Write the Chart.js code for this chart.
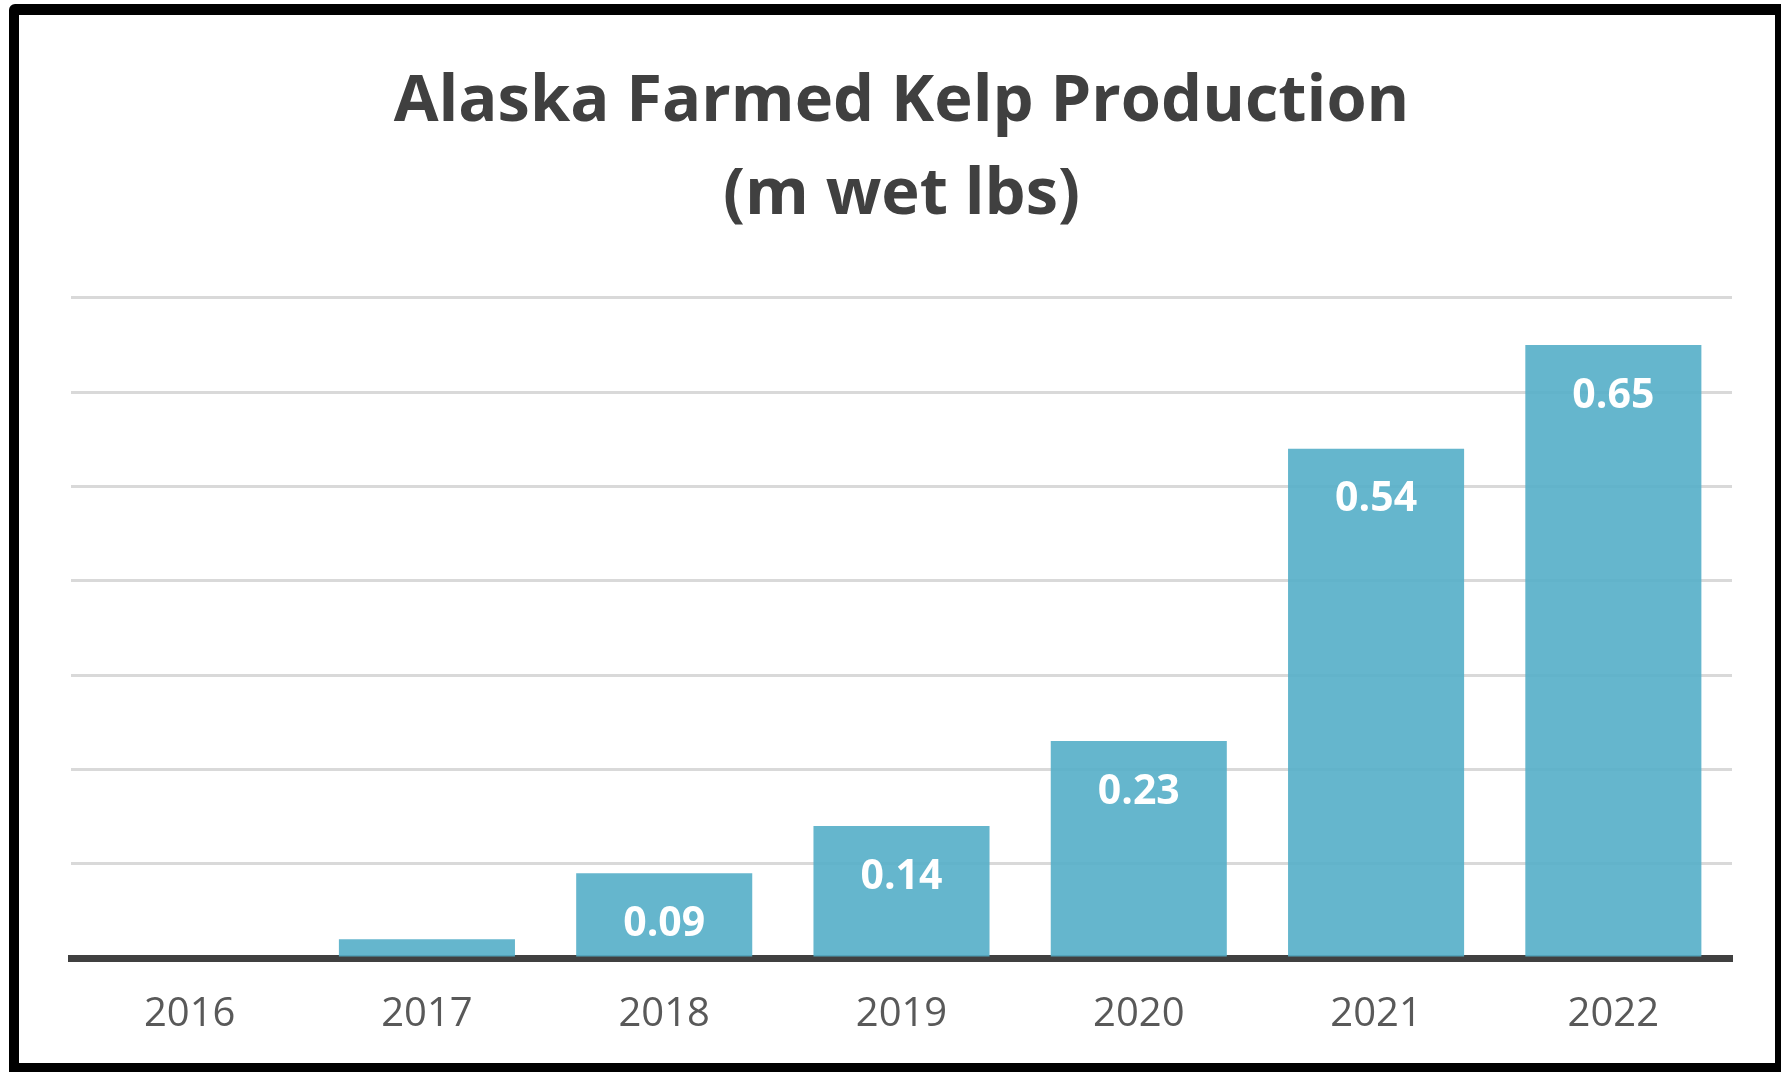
<!DOCTYPE html>
<html>
<head>
<meta charset="utf-8">
<script src="https://cdn.jsdelivr.net/npm/chart.js@4/dist/chart.umd.min.js"></script>
<style>
  html, body { margin: 0; padding: 0; background: #fff; }
  #wrap { position: relative; width: 1781px; height: 1072px; }
  #frame {
    position: absolute; left: 9px; top: 4px; right: 0; bottom: 0;
    box-sizing: border-box;
    border-style: solid; border-color: #000;
    border-width: 11px 6px 9px 10px;
    border-top-left-radius: 6px;
    pointer-events: none;
  }
</style>
</head>
<body>
<div id="wrap">
  <canvas id="kelp-chart" width="1781" height="1072"></canvas>
  <div id="frame"></div>
</div>
<script>
const years = ["2016", "2017", "2018", "2019", "2020", "2021", "2022"];
const kelpLbs = [0, 0.02, 0.09, 0.14, 0.23, 0.54, 0.65];
const titleLines = ["Alaska Farmed Kelp Production", "(m wet lbs)"];

// white value labels inside the top of each bar (only where the bar is tall enough)
const barValues = {
    id: 'barValues',
    afterDatasetsDraw(chart) {
        const ctx = chart.ctx;
        const meta = chart.getDatasetMeta(0);
        ctx.save();
        ctx.font = "bold 41px 'Open Sans'";
        ctx.fillStyle = "#ffffff";
        ctx.textAlign = "center";
        ctx.textBaseline = "middle";
        meta.data.forEach((bar, i) => {
            const v = kelpLbs[i];
            if (v < 0.05) return;
            ctx.fillText(v.toFixed(2), bar.x, bar.y + 51);
        });
        ctx.restore();
    }
};

new Chart(document.getElementById("kelp-chart"), {
    type: 'bar',
    data: {
        labels: years,
        datasets: [{
            data: kelpLbs,
            backgroundColor: "rgba(84, 174, 200, 0.9)",
            categoryPercentage: 1,
            barPercentage: 0.742
        }]
    },
    options: {
        responsive: false,
        animation: false,
        layout: {
            padding: { left: 71, right: 49, top: 0, bottom: 0 }
        },
        plugins: {
            legend: { display: false },
            tooltip: { enabled: false },
            title: {
                display: true,
                text: titleLines,
                color: "#404040",
                font: { family: "'Open Sans'", size: 65, weight: 'bold', lineHeight: 1.43 },
                padding: { top: 56, bottom: 56 }
            }
        },
        scales: {
            x: {
                grid: { display: false, drawTicks: false },
                border: { display: true, color: "#404040", width: 7 },
                ticks: {
                    color: "#595959",
                    font: { family: "'Open Sans'", size: 40, lineHeight: 1.1 },
                    padding: 35
                }
            },
            y: {
                min: 0,
                max: 0.7,
                ticks: { display: false, stepSize: 0.1 },
                grid: { color: "#d9d9d9", lineWidth: 3, drawTicks: false, tickLength: 0 },
                border: { display: false }
            }
        }
    },
    plugins: [barValues]
});
</script>
</body>
</html>
